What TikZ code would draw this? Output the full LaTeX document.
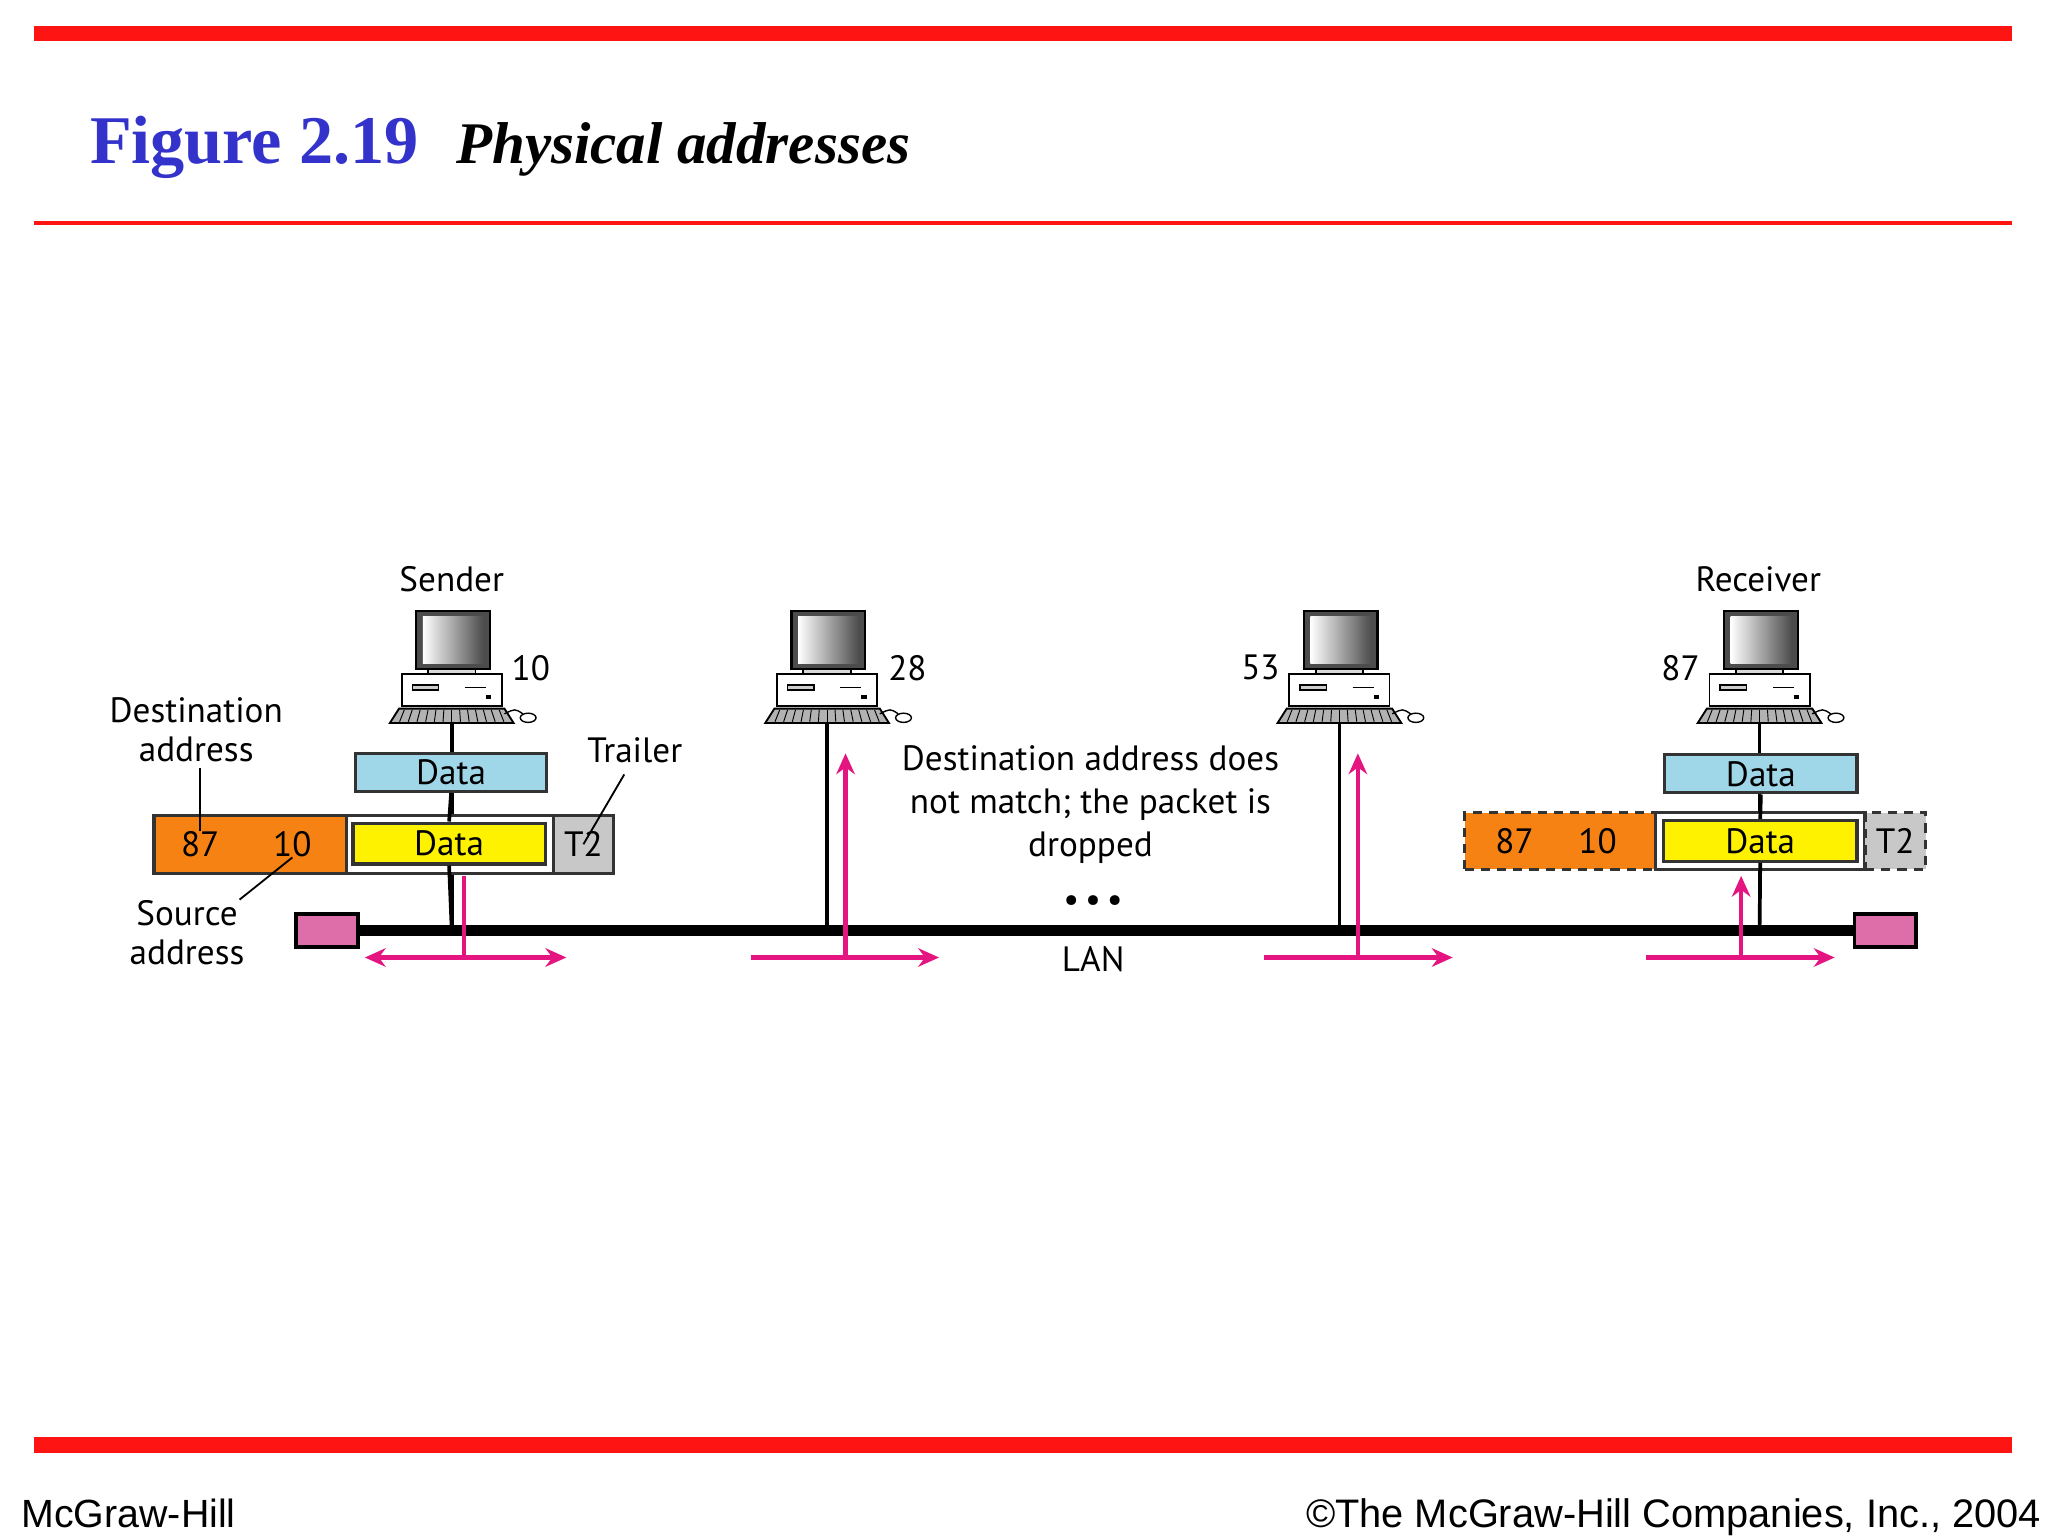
\documentclass[tikz,border=0pt]{standalone}
\usepackage{fontspec}
\setmainfont{Liberation Serif}
\newfontfamily\diag{PT Sans}
\newfontfamily\arial{Liberation Sans}
\usetikzlibrary{arrows.meta,shadings}
\definecolor{titleblue}{RGB}{51,51,204}
\definecolor{barred}{RGB}{255,20,20}
\definecolor{cyanbox}{RGB}{160,215,232}
\definecolor{orangebox}{RGB}{247,130,20}
\definecolor{graybox}{RGB}{200,200,200}
\definecolor{pinkarrow}{RGB}{228,20,128}
\definecolor{termpink}{RGB}{222,110,170}
\tikzset{
  lbl/.style={font=\diag\fontsize{15.2}{18}\selectfont, inner sep=0pt},
  box/.style={draw=black!80, line width=1.4pt, inner sep=0pt, font=\diag\fontsize{15.2}{18}\selectfont},
  dbox/.style={box, dashed, dash pattern=on 4pt off 3pt},
  parrow/.style={draw=pinkarrow, line width=1.8pt, -{Stealth[length=9pt,width=8pt]}},
  comp/.pic={
    \draw[line width=0.8pt, fill=white] (-38,-38) rectangle (38,-14);
    \draw[line width=0.6pt, fill=gray!40] (-30,-30) rectangle (-10,-26);
    \draw[line width=0.6pt] (10,-28) -- (26,-28);
    \fill (26,-22) rectangle (30,-19);
    \draw[line width=0.8pt, fill=gray!30] (-18,-42) rectangle (18,-38);
    \draw[line width=1pt, fill=black!70] (-27,-86) rectangle (29,-42);
    \shade[left color=white, right color=black!70] (-22,-82) rectangle (24,-46);
    \draw[line width=0.8pt, fill=gray!60] (-40,-12) -- (40,-12) -- (47,-1) -- (-47,-1) -- cycle;
    \foreach \k in {-36,-30,...,36} \draw[line width=0.4pt] (\k,-11) -- (\k*1.1,-2);
    \draw[line width=0.6pt] (40,-8) .. controls (48,-12) .. (54,-8);
    \draw[line width=0.6pt, fill=white] (58,-5) ellipse (6 and 3.5);
  }
}
\begin{document}
\begin{tikzpicture}[x=0.02cm,y=-0.02cm]
\useasboundingbox (0,0) rectangle (1555,1166);
\fill[white] (0,0) rectangle (1555,1166);
% bars
\fill[barred] (26,20) rectangle (1528,31);
\fill[barred] (26,168) rectangle (1528,171);
\fill[barred] (26,1091) rectangle (1528,1103);
\node[anchor=base west, text=titleblue, font=\bfseries\fontsize{29.5}{33}\selectfont, inner sep=0pt] (ttl) at (68,124) {Figure 2.19};
\node[anchor=base west, font=\bfseries\itshape\fontsize{25.5}{30}\selectfont, inner sep=0pt] (sub) at (346,124) {Physical addresses};
\node[anchor=base west, font=\arial\fontsize{17}{20}\selectfont, inner sep=0pt] (f1) at (16,1160) {McGraw-Hill};
\node[anchor=base east, font=\arial\fontsize{17.2}{20}\selectfont, inner sep=0pt] (f2) at (1550,1160) {\textcopyright The McGraw-Hill Companies, Inc., 2004};

% computers
\coordinate (c1) at (343,550); \coordinate (c2) at (628,550);
\coordinate (c3) at (1017,550); \coordinate (c4) at (1336,550);
\coordinate (l1) at (343,706); \coordinate (l2) at (628,706);
\coordinate (l3) at (1017,706); \coordinate (l4) at (1336,706);
\foreach \c in {c1,c2,c3,c4} \pic at (\c) {comp};
\draw[line width=1.6pt] (c1) -- (l1);
\draw[line width=1.6pt] (c2) -- (l2);
\draw[line width=1.6pt] (c3) -- (l3);
\draw[line width=1.6pt] (c4) -- (l4);

% LAN
\node[draw=black, line width=1.6pt, fill=termpink, minimum width=47*0.02cm, minimum height=25*0.02cm, inner sep=0pt] (tl) at (248.5,706.5) {};
\node[draw=black, line width=1.6pt, fill=termpink, minimum width=47*0.02cm, minimum height=25*0.02cm, inner sep=0pt] (tr) at (1431.5,706.5) {};
\draw[line width=4.5pt] (tl.east) -- (tr.west);

% labels
\node[lbl] (snd) at (343,440) {Sender};
\node[lbl] (rcv) at (1335,440) {Receiver};
\node[lbl] (a10) at (403,507) {10};
\node[lbl] (a28) at (689,507) {28};
\node[lbl] (a53) at (957,507) {53};
\node[lbl] (a87) at (1276,507) {87};
\node[lbl, align=center] (dst) at (149,554) {Destination\\[-1pt]address};
\node[lbl, align=center] (src) at (142,708) {Source\\[-1pt]address};
\node[lbl] (trl) at (482,570) {Trailer};
\node[lbl, align=center, font=\diag\fontsize{15.2}{18.5}\selectfont] (msg) at (828,611) {Destination address does\\not match; the packet is\\dropped};
\node[lbl] (dots) at (830,686) {\textbullet\,\textbullet\,\textbullet};
\node[lbl] (lan) at (830,728) {LAN};

% sender frame
\node[box, fill=cyanbox, minimum width=145*0.02cm, minimum height=29*0.02cm] (sdata) at (342.5,586.5) {Data};
\node[box, fill=orangebox, minimum width=146*0.02cm, minimum height=44*0.02cm] (shdr) at (190,641) {};
\node[box, fill=white, minimum width=157*0.02cm, minimum height=44*0.02cm] (sfr) at (341.5,641) {};
\node[box, fill=yellow, minimum width=146*0.02cm, minimum height=31*0.02cm] (syel) at (341,640.5) {Data};
\node[box, fill=graybox, minimum width=46*0.02cm, minimum height=44*0.02cm] (st2) at (443,641) {T2};
\node[lbl] (s87) at (152,641) {87};
\node[lbl] (s10) at (222,641) {10};
\draw[line width=1.6pt] (sdata.south) -- (syel.north);
\draw[line width=0.8pt] (dst.south -| s87) ++(0,4) coordinate (d1) -- (s87.north);
\draw[line width=0.8pt] (src.north east) ++(-4,0) coordinate (d2) -- (s10.south);
\draw[line width=0.8pt] (474,588) coordinate (d3) -- (st2.center);

% receiver frame
\node[box, fill=cyanbox, minimum width=146*0.02cm, minimum height=29*0.02cm] (rdata) at (1337,587.5) {Data};
\node[dbox, fill=orangebox, minimum width=145*0.02cm, minimum height=43*0.02cm] (rhdr) at (1184.5,638.5) {};
\node[box, fill=white, minimum width=159*0.02cm, minimum height=43*0.02cm] (rfr) at (1336.5,638.5) {};
\node[box, fill=yellow, minimum width=147*0.02cm, minimum height=31*0.02cm] (ryel) at (1336.5,638.5) {Data};
\node[dbox, fill=graybox, minimum width=46*0.02cm, minimum height=43*0.02cm] (rt2) at (1439,638.5) {T2};
\node[lbl] (r87) at (1150,638.5) {87};
\node[lbl] (r10) at (1213,638.5) {10};
\draw[line width=1.6pt] (rdata.south) -- (ryel.north);
\draw[line width=1.6pt] (ryel.south) -- (l4);
\draw[line width=1.6pt] (syel.south) -- (l1);

% pink arrows
\coordinate (p1t) at (352,665); \coordinate (p1b) at (352,727);
\coordinate (p1l) at (277,727); \coordinate (p1r) at (430,727);
\draw[draw=pinkarrow, line width=1.8pt] (p1t) -- (p1b);
\draw[parrow, {Stealth[length=9pt,width=8pt]}-{Stealth[length=9pt,width=8pt]}] (p1l) -- (p1r);
\coordinate (p2b) at (642,727); \coordinate (p2t) at (642,572);
\coordinate (p2l) at (570,727); \coordinate (p2r) at (713,727);
\draw[parrow] (p2b) -- (p2t); \draw[parrow] (p2l) -- (p2r);
\coordinate (p3b) at (1031,727); \coordinate (p3t) at (1031,572);
\coordinate (p3l) at (960,727); \coordinate (p3r) at (1103,727);
\draw[parrow] (p3b) -- (p3t); \draw[parrow] (p3l) -- (p3r);
\coordinate (p4b) at (1322,727); \coordinate (p4t) at (1322,665);
\coordinate (p4l) at (1250,727); \coordinate (p4r) at (1393,727);
\draw[parrow] (p4b) -- (p4t); \draw[parrow] (p4l) -- (p4r);
\end{tikzpicture}
\end{document}
